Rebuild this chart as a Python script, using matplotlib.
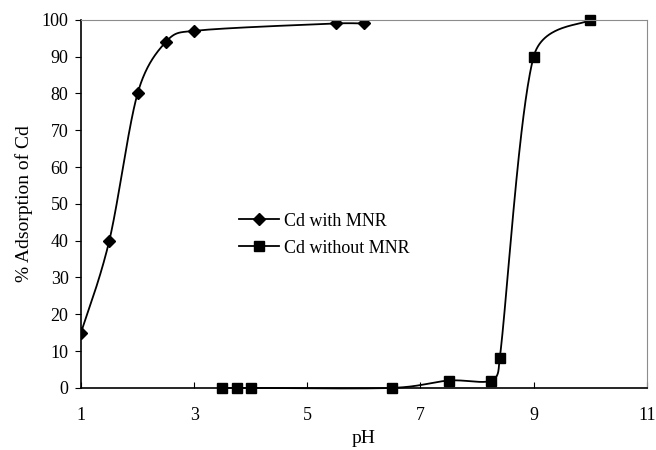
import numpy as np
import matplotlib.pyplot as plt

plt.rcParams['font.family'] = ['Liberation Serif', 'DejaVu Serif']

# data
ph_mnr = [1, 1.5, 2, 2.5, 3, 5.5, 6]
ads_mnr = [15, 40, 80, 94, 97, 99, 99]

ph_no = [3.5, 3.75, 4, 6.5, 7.5, 8.25, 8.4, 9, 10]
ads_no = [0, 0, 0, 0, 2, 2, 8, 90, 100]


def smooth_line(ax, x, y, n=60):
    # excel style smoothed line (bezier, 1/6 tension clamped to half a segment),
    # worked out in pixel space like excel does
    trans = ax.transData
    pts = trans.transform(np.column_stack([x, y]))
    pts = np.vstack([pts[:1], pts, pts[-1:]])
    out = []
    t = np.linspace(0, 1, n)[:, None]
    for i in range(1, len(pts) - 2):
        p0, p1, p2, p3 = pts[i - 1], pts[i], pts[i + 1], pts[i + 2]
        d12 = np.hypot(*(p2 - p1))
        d02 = np.hypot(*(p2 - p0))
        d13 = np.hypot(*(p3 - p1))
        f = 1 / 6.0 if d02 / 6.0 < d12 / 2.0 else d12 / 2.0 / d02
        g = 1 / 6.0 if d13 / 6.0 < d12 / 2.0 else d12 / 2.0 / d13
        c1 = p1 + (p2 - p0) * f
        c2 = p2 - (p3 - p1) * g
        b = (1 - t) ** 3 * p1 + 3 * (1 - t) ** 2 * t * c1 \
            + 3 * (1 - t) * t ** 2 * c2 + t ** 3 * p2
        out.append(b)
    out = trans.inverted().transform(np.vstack(out))
    return out[:, 0], out[:, 1]


fig = plt.figure(figsize=(6.56, 4.5), dpi=100)
ax = fig.add_axes([0.1235, 0.138, 0.8625, 0.818])
ax.set_xlim(1, 11)
ax.set_ylim(0, 100)

sx, sy = smooth_line(ax, ph_mnr, ads_mnr)
ax.plot(sx, sy, color='black', lw=1.3)
ax.plot(ph_mnr, ads_mnr, 'D', color='black', ms=6, ls='none')
ax.plot([], [], color='black', lw=1.3, marker='D', ms=6, label='Cd with MNR')

sx, sy = smooth_line(ax, ph_no, ads_no)
ax.plot(sx, sy, color='black', lw=1.3, clip_on=False)
ax.plot(ph_no, ads_no, 's', color='black', ms=7, ls='none', clip_on=False)
ax.plot([], [], color='black', lw=1.3, marker='s', ms=7, label='Cd without MNR')

ax.set_xticks([1, 3, 5, 7, 9, 11])
ax.set_yticks(range(0, 101, 10))
ax.tick_params(axis='x', direction='in', length=4, labelsize=13, pad=14)
ax.tick_params(axis='y', direction='out', length=4, labelsize=13, pad=5)

for s in ['top', 'right']:
    ax.spines[s].set_color('#8c8c8c')
for s in ['left', 'bottom']:
    ax.spines[s].set_color('black')
    ax.spines[s].set_linewidth(1.2)

ax.set_xlabel('pH', fontsize=14, labelpad=4)
ax.set_ylabel('% Adsorption of Cd', fontsize=14, labelpad=6)

ax.legend(loc='center', bbox_to_anchor=(0.43, 0.416), frameon=False,
          fontsize=13, handlelength=2.2, handletextpad=0.3, labelspacing=0.55)

fig.savefig('out.png', dpi=100)
